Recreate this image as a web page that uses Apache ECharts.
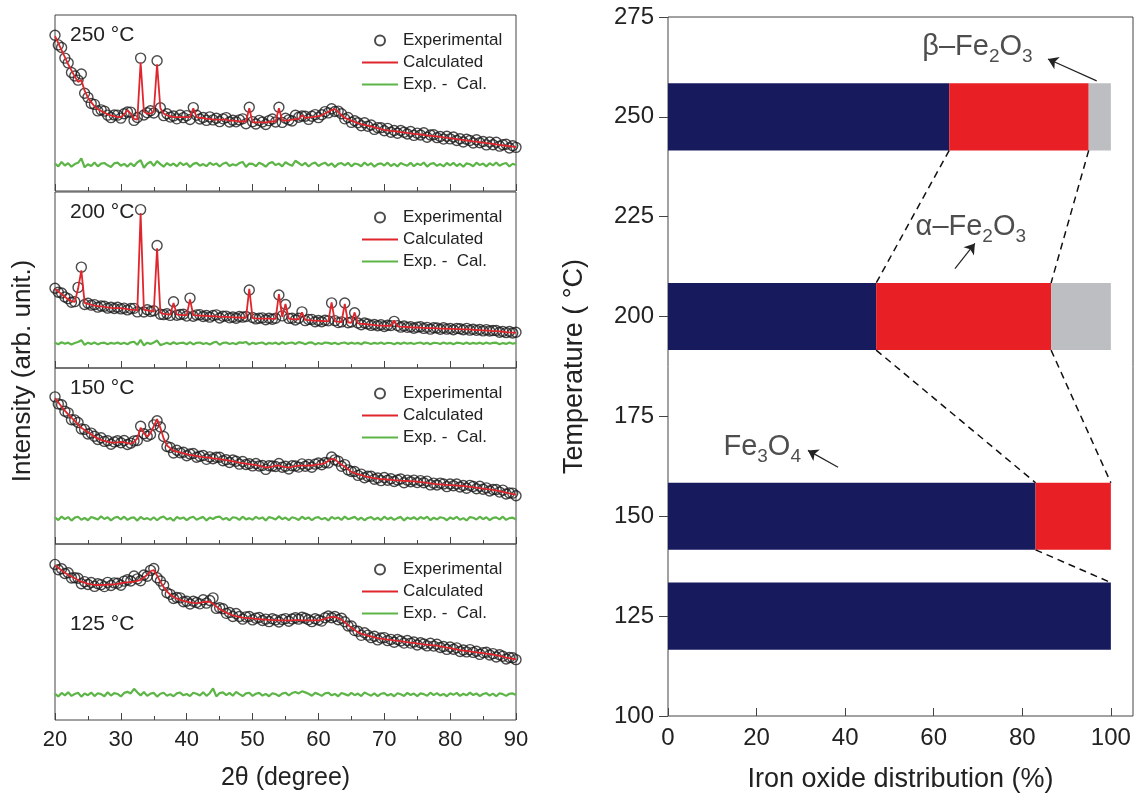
<!DOCTYPE html>
<html>
<head>
<meta charset="utf-8">
<title>XRD refinement and iron oxide distribution</title>
<script src="https://cdn.jsdelivr.net/npm/echarts@6/dist/echarts.min.js"></script>
<style>
  html, body { margin: 0; padding: 0; background: #fff; }
  #chart { width: 1137px; height: 802px; }
</style>
</head>
<body>
<div id="chart"></div>
<script>
  // 2theta sampling of the patterns: every 0.5 degree from 20 to 90
  const thetaStart = 20
  const thetaStep = 0.5

  const panelLabels = ['250 °C', '200 °C', '150 °C', '125 °C']

  // calculated (Rietveld) profiles, arb. unit
  const calc250 = [
    88, 84, 80, 76, 72, 68.5, 65, 62, 63, 57,
    53, 50.5, 48, 46.5, 45.5, 44.5, 43.5, 43, 42.5, 42,
    42, 43.5, 46, 44, 41, 40.5, 73, 45, 44, 44,
    45, 72, 47, 44, 43, 42.5, 42, 42, 42, 42,
    42, 42, 47, 42, 41.5, 41.5, 41, 41, 40.6, 40.6,
    40.5, 40.5, 40.5, 40, 40, 39.8, 39.5, 39.5, 39.5, 47,
    39, 39, 39, 39, 39, 39.2, 39.5, 39.5, 47, 40,
    40, 40.2, 40.5, 40.8, 41, 43, 41.5, 41.8, 42, 42.2,
    42.5, 43, 44, 45, 46, 46.5, 45, 43, 41.5, 40.8,
    40, 39.3, 38.6, 38, 37.6, 37.2, 36.7, 36.2, 35.7, 35.2,
    34.7, 34.5, 34.2, 34, 33.8, 33.5, 33.3, 33, 32.8, 32.5,
    32.3, 32.1, 31.9, 31.6, 31.4, 31.2, 31, 30.7, 30.5, 30.2,
    30, 29.7, 29.5, 29.2, 29, 28.7, 28.5, 28.2, 28, 27.7,
    27.5, 27.2, 27, 26.7, 26.5, 26.2, 26, 25.7, 25.5, 25.2,
    25
  ]
  const calc200 = [
    45, 43.5, 42, 40.5, 39, 38, 37.5, 45, 55.5, 37,
    36.4, 36, 35.5, 35.2, 35, 34.7, 34.5, 34.2, 34, 34,
    34, 33.7, 33.5, 33.2, 33, 32.7, 88, 33, 32.7, 32.4,
    32, 68, 31.5, 30.7, 30.5, 30.4, 37, 30.3, 30.2, 30.1,
    30, 39, 30, 29.9, 29.8, 29.7, 29.6, 29.5, 29.4, 29.3,
    29.2, 29.1, 29, 28.9, 28.8, 28.8, 28.7, 28.6, 28.5, 45,
    28.3, 28.2, 28.1, 28, 28, 28, 27.9, 27.9, 42, 29,
    36.4, 28, 27.8, 27.7, 27.6, 31.6, 27.4, 27.2, 27, 26.9,
    26.8, 26.7, 26.6, 26.5, 37.3, 26.5, 26.3, 26, 36.4, 26,
    25.7, 31.6, 25.3, 25.1, 25, 24.8, 24.6, 24.4, 24.2, 24.1,
    24, 24, 23.9, 27, 23.7, 23.5, 23.4, 23.3, 23.1, 23,
    23, 22.9, 22.8, 22.7, 22.6, 22.6, 22.5, 22.4, 22.4, 22.3,
    22.2, 22.2, 22.1, 22.1, 22, 22, 21.9, 21.7, 21.6, 21.5,
    21.4, 21.3, 21.2, 21, 20.9, 20.8, 20.6, 20.4, 20.2, 20.1,
    20
  ]
  const calc150 = [
    83, 80.5, 78, 75.8, 73.7, 71.8, 70, 68, 66, 64.8,
    63.5, 62.2, 61, 60, 59.2, 58.6, 58, 57.8, 57.6, 57.8,
    58, 57.8, 57.3, 57, 58, 60, 66, 63, 61, 63,
    67, 71, 66, 60, 56, 54.5, 53, 52.5, 52, 51.5,
    51, 50.7, 50.4, 50, 49.7, 49.4, 49.2, 49, 48.7, 48.5,
    48.2, 47.9, 47.6, 47.3, 47, 46.6, 46.2, 45.9, 45.7, 45.4,
    45.1, 44.8, 44.5, 44, 43.5, 43.7, 44, 44.6, 44.5, 44,
    43.7, 43.5, 43.8, 44.2, 44.5, 44.5, 44.5, 44.6, 44.6, 45,
    45.2, 45.5, 46, 47.2, 48.5, 48, 46.5, 45, 44, 42.5,
    41, 40.3, 39.7, 39.2, 38.6, 38.2, 37.7, 37.4, 37.1, 36.9,
    36.8, 36.6, 36.5, 36.3, 36.2, 36, 35.9, 35.8, 35.7, 35.6,
    35.5, 35.2, 35, 34.7, 34.5, 34.2, 34, 33.9, 33.8, 33.6,
    33.5, 33.4, 33.2, 33.1, 33, 32.8, 32.5, 32.3, 32, 31.8,
    31.5, 31.2, 31, 30.7, 30.4, 30, 29.6, 29.2, 28.8, 28.4,
    28
  ]
  const calc125 = [
    88, 86.5, 85, 83.7, 82.5, 81.5, 80.5, 79.5, 78.6, 78,
    77.4, 77, 76.8, 76.7, 76.7, 76.8, 76.9, 77, 77.1, 77.4,
    77.7, 78, 78.2, 78.4, 78.6, 79, 79.6, 81, 82.5, 84.5,
    85.2, 82, 78.6, 75.5, 73, 71.2, 70, 69, 68.3, 67.7,
    67.2, 66.8, 66.5, 66.4, 66.6, 67, 67.2, 67.2, 66, 64.5,
    63, 62, 61, 60.2, 59.5, 59, 58.6, 58.2, 58, 57.8,
    57.7, 57.5, 57.3, 57.1, 57, 56.9, 56.8, 56.7, 56.6, 56.6,
    56.6, 56.6, 56.6, 56.7, 56.7, 56.6, 56.6, 56.6, 56.6, 56.6,
    56.6, 57, 57.5, 58.1, 58.6, 58.5, 58, 57, 55.6, 54,
    52.5, 51.2, 49.9, 49, 48.5, 48, 47.5, 47, 46.5, 46.2,
    46, 45.7, 45.5, 45.2, 45, 44.8, 44.5, 44.3, 44, 43.8,
    43.5, 43.3, 43, 42.8, 42.6, 42.4, 42.2, 41.8, 41.5, 41.1,
    40.8, 40.4, 40.1, 39.7, 39.4, 39.2, 39, 38.7, 38.5, 38.2,
    38, 37.7, 37.5, 37.2, 36.8, 36.4, 36, 35.5, 35.1, 34.8,
    34.6
  ]

  // difference curves Exp. - Cal.
  const diff250 = [
    0.5, -1, 1.5, -0.5, 0.8, -1.2, 0.3, 1, 3.5, -1.5,
    0.2, -0.8, 1.2, -1, 0.6, 0.9, -0.4, -1.3, 0.7, 1.1,
    -0.6, 0.4, -1.1, 0.8, -0.9, 1.3, 2.5, -1.8, 0.5, 1.6,
    -0.7, 2, 0.3, -1.2, 0.9, -0.5, 0.6, -1, 1.2, -0.3,
    0.8, -1.4, 0.4, 1, -0.6, 0.3, -0.9, 1.1, -0.2, 0.7,
    -1.1, 0.5, 1.2, -0.8, 0.2, -0.5, 0.9, 1.5, -1.3, 0.6,
    0.4, -0.9, 1.1, 0.2, -1.2, 0.8, 1.4, -0.3, 0.6, -1,
    1.3, 0.2, -0.7, 2.2, 0.9, -0.4, 1, -1.1, 0.5, 1.2,
    -0.8, 0.3, 1.1, -0.6, 0.7, -1.3, 0.4, 0.9, -0.5, 1,
    -1, 0.6, 0.2, -0.9, 1.2, -0.4, 0.8, -1.2, 0.3, 0.7,
    -0.5, 1.1, -0.8, 0.4, -1, 0.9, 0.1, -0.6, 1, -0.9,
    0.6, -0.3, 1.2, -1.1, 0.4, 0.8, -0.7, 0.3, -1, 0.9,
    -0.4, 1, -0.8, 0.5, -1.2, 0.7, 0.2, -0.9, 1.1, -0.3,
    0.6, -1, 0.8, -0.4, 1.2, -0.7, 0.3, 0.9, -1.1, 0.5,
    -0.2
  ]
  const diff200 = [
    0.3, -0.5, 0.6, -0.2, 0.4, -0.6, 0.2, 0.8, 1.8, -0.9,
    0.4, -0.3, 0.5, -0.6, 0.2, 0.4, -0.5, 0.3, -0.2, 0.5,
    -0.4, 0.3, -0.5, 0.6, 0.9, -0.8, 2, -1.2, 0.4, -0.3,
    0.5, 1.6, -1, -0.4, 0.3, -0.5, 0.6, -0.3, 0.2, 0.4,
    -0.5, 0.7, -0.6, 0.3, 0.5, -0.4, 0.2, -0.6, 0.4, 0.9,
    -0.8, 0.3, 0.5, -0.4, 0.2, -0.5, 0.6, 0.3, 0.8, -0.7,
    0.4, -0.3, 0.2, 0.5, -0.6, 0.3, -0.2, 0.4, -0.5, 0.6,
    -0.3, 0.2, 0.5, -0.4, 0.7, 0.3, -0.5, 0.4, 0.6, -0.6,
    0.2, -0.4, 0.5, 0.3, -0.3, 0.4, -0.5, 0.2, 0.5, -0.3,
    0.4, -0.2, 0.3, -0.5, 0.6, 0.2, -0.4, 0.3, -0.2, 0.5,
    -0.4, 0.3, 0.2, -0.5, 0.4, -0.3, 0.5, -0.2, 0.3, -0.4,
    0.2, 0.5, -0.3, 0.4, -0.5, 0.3, 0.2, -0.4, 0.5, -0.2,
    0.3, -0.5, 0.4, 0.2, -0.3, 0.5, -0.4, 0.3, -0.2, 0.4,
    -0.3, 0.5, -0.2, 0.3, 0.4, -0.5, 0.2, -0.3, 0.5, -0.2,
    0.3
  ]
  const diff150 = [
    0.6, -0.9, 1.1, -0.4, 0.8, -1.2, 0.5, 1, -0.7, 0.3,
    -1, 0.8, 0.2, -0.6, 1.2, -0.3, 0.7, -1.1, 0.4, 0.9,
    -0.5, 1, -0.8, 0.3, 0.6, -1.2, 0.9, -0.4, 0.2, -0.8,
    0.7, -1, 0.5, 1.1, -0.6, 0.3, -1.3, 0.8, -0.2, 0.6,
    -0.9, 0.4, 1, -0.7, 0.2, 0.9, -1.1, 0.5, -0.3, 0.8,
    1.1, -0.6, 0.3, -1, 0.7, 0.4, -0.8, 1, -0.5, 0.2,
    -0.7, 0.9, -0.2, 0.6, -1.1, 0.8, 0.3, -0.6, 1.2, -0.4,
    0.5, -0.9, 0.7, 0.1, -0.8, 1, -0.3, 0.6, -1, 0.4,
    0.8, -0.5, 0.3, -1.1, 0.9, -0.2, 0.6, -0.8, 1.1, -0.4,
    0.2, 0.9, -0.7, 0.5, -1, 0.3, 0.8, -0.6, 0.4, -0.9,
    1, -0.4, 0.6, -0.8, 0.2, 0.9, -1.1, 0.5, -0.3, 0.7,
    -0.6, 0.8, -0.2, 1, -0.9, 0.4, -0.5, 0.7, 0.3, -1,
    0.6, -0.3, 0.9, -0.7, 0.2, -1.1, 0.8, 0.4, -0.6, 1,
    -0.4, 0.7, -0.9, 0.3, 0.6, -0.5, 1, -0.8, 0.2, 0.5,
    -0.6
  ]
  const diff125 = [
    0.4, -1.1, 0.9, -0.5, 1.2, -0.8, 0.3, 1, -1.2, 0.6,
    -0.4, 1.1, -0.9, 0.7, 0.2, -1, 1.3, -0.6, 0.8, 0.3,
    -1.1, 0.9, 1.5, 0.6, 3.2, 1.2, -0.5, 1.4, -0.8, 0.5,
    0.9, -1.2, 0.4, 1, -0.7, 0.2, -1, 0.6, 1.1, -0.5,
    0.3, -0.9, 1, 0.4, -0.6, 1.3, -0.8, 0.7, 3.4, -1.1,
    0.8, 1.2, -0.4, 0.9, -0.7, 1.5, 0.2, -0.9, 0.6, 1,
    -0.8, 0.4, 0.9, -0.6, 0.3, -1, 0.7, 0.2, -0.9, 0.5,
    1, -0.5, 0.8, 1.4, 0.6, 1.8, 1.2, 0.4, -0.7, 0.9,
    0.2, -0.8, 0.6, 1, -0.5, 0.3, -1, 0.8, 0.2, -0.6,
    0.9, -0.4, 0.5, -0.9, 1.1, 0.2, -0.7, 0.6, -1, 0.4,
    0.8, -0.6, 0.3, -1, 0.7, 0.1, -0.8, 0.9, -0.3, 0.5,
    -0.9, 0.6, 0.2, -0.7, 1, -0.4, 0.8, -0.6, 0.3, -1,
    0.7, -0.2, 0.9, -0.8, 0.4, -0.5, 1, -0.3, 0.6, -0.9,
    0.3, 0.8, -0.6, 0.5, -1, 0.7, 0.2, -0.8, 0.4, 0.6,
    -0.3
  ]
  // level at which each difference curve is drawn
  const diffOffset = [15, 14, 14.5, 14.5]

  // iron oxide distribution (%) per annealing temperature
  const temps = [125, 150, 200, 250]
  const fe3o4 = [100, 83, 47, 63.5]
  const alphaFe2o3 = [0, 17, 39.5, 31.5]
  const betaFe2o3 = [0, 0, 13.5, 5]

  const calcs = [calc250, calc200, calc150, calc125]
  const diffs = [diff250, diff200, diff150, diff125]

  const font = '"Liberation Sans", Arial, sans-serif'
  const ink = '#222'
  const panelTop = [15, 192, 368, 544]
  const panelH = 176
  const barHalf = 8.4
  const phaseColors = ['#181a5e', '#e91f26', '#bdbec1']
  // thin bar used as legend icon for the two curves
  const lineIcon = 'path://M0,0L36,0L36,2.2L0,2.2Z'

  let grids = [], xAxes = [], yAxes = [], legends = [], series = [], graphics = []

  panelTop.forEach((top, i) => {
    let last = i === panelTop.length - 1
    grids.push({ left: 55, right: 621, top: top, height: panelH, show: true,
      borderColor: '#444', borderWidth: 1, backgroundColor: 'transparent' })
    xAxes.push({
      type: 'value', gridIndex: i, min: 20, max: 90, interval: 10,
      axisLine: { show: false },
      axisTick: { show: true, inside: true, length: 7, lineStyle: { color: '#444' } },
      minorTick: { show: true, splitNumber: 2, length: 4, lineStyle: { color: '#444' } },
      splitLine: { show: false },
      axisLabel: { show: last, fontSize: 22, color: ink, fontFamily: font, margin: 9 },
      name: last ? '2θ (degree)' : '', nameLocation: 'middle', nameGap: 46,
      nameTextStyle: { fontSize: 25, color: ink, fontFamily: font }
    })
    yAxes.push({ type: 'value', gridIndex: i, min: 0, max: 100, show: false })
    legends.push({
      orient: 'vertical', left: 357, top: top + 12, itemWidth: 36, itemHeight: 10, itemGap: 5,
      selectedMode: false,
      textStyle: { fontSize: 17, color: ink, fontFamily: font },
      data: [
        { name: 'Experimental', icon: 'circle' },
        { name: 'Calculated', icon: lineIcon },
        { name: 'Exp. -  Cal.', icon: lineIcon }
      ]
    })

    let calc = calcs[i], diff = diffs[i]
    let xs = calc.map((v, k) => thetaStart + k * thetaStep)
    series.push({
      name: 'Experimental', type: 'scatter', xAxisIndex: i, yAxisIndex: i, z: 2,
      symbol: 'circle', symbolSize: 10,
      itemStyle: { color: 'rgba(0,0,0,0)', borderColor: '#1e1e1e', borderWidth: 1.4 },
      // Exp. = Cal. + (Exp. - Cal.)
      data: xs.map((x, k) => [x, calc[k] + diff[k]])
    })
    series.push({
      name: 'Calculated', type: 'line', xAxisIndex: i, yAxisIndex: i, z: 3,
      symbol: 'none', lineStyle: { color: '#e0262c', width: 1.8 }, itemStyle: { color: '#e0262c' },
      data: xs.map((x, k) => [x, calc[k]])
    })
    series.push({
      name: 'Exp. -  Cal.', type: 'line', xAxisIndex: i, yAxisIndex: i, z: 3,
      symbol: 'none', lineStyle: { color: '#5db548', width: 2.2 }, itemStyle: { color: '#5db548' },
      data: xs.map((x, k) => [x, diffOffset[i] + diff[k]])
    })
    graphics.push({
      type: 'text', left: 70, top: top + (last ? 70 : 10),
      style: { text: panelLabels[i], fontSize: 21, fill: ink, fontFamily: font }
    })
  })

  graphics.push({
    type: 'text', x: 23, y: 371, rotation: Math.PI / 2,
    style: { text: 'Intensity (arb. unit.)', fontSize: 26, fill: ink, fontFamily: font,
      align: 'center', verticalAlign: 'middle' }
  })

  // right panel: iron oxide distribution
  const R = panelTop.length
  grids.push({ left: 668, right: 4, top: 17, bottom: 86, show: true,
    borderColor: '#444', borderWidth: 1, backgroundColor: 'transparent' })
  xAxes.push({
    type: 'value', gridIndex: R, min: 0, max: 105, interval: 20,
    axisLine: { show: false },
    axisTick: { inside: true, length: 8, customValues: [0, 20, 40, 60, 80, 100], lineStyle: { color: '#444' } },
    axisLabel: { fontSize: 24, color: ink, fontFamily: font, margin: 10, customValues: [0, 20, 40, 60, 80, 100] },
    splitLine: { show: false },
    name: 'Iron oxide distribution (%)', nameLocation: 'middle', nameGap: 50,
    nameTextStyle: { fontSize: 27, color: ink, fontFamily: font }
  })
  yAxes.push({
    type: 'value', gridIndex: R, min: 100, max: 275, interval: 25,
    axisLine: { show: false },
    axisTick: { inside: false, length: 9, lineStyle: { color: '#444' } },
    axisLabel: { fontSize: 24, color: ink, fontFamily: font, margin: 14 },
    splitLine: { show: false },
    name: 'Temperature ( °C)', nameLocation: 'middle', nameGap: 80,
    nameTextStyle: { fontSize: 27, color: ink, fontFamily: font }
  })

  const phases = [fe3o4, alphaFe2o3, betaFe2o3]
  phases.forEach((vals, p) => {
    series.push({
      type: 'custom', xAxisIndex: R, yAxisIndex: R, z: 2,
      data: temps.map((t, k) => {
        let start = 0
        for (let q = 0; q < p; q++) start += phases[q][k]
        return [t, start, start + vals[k]]
      }).filter(d => d[2] > d[1]),
      encode: { x: [1, 2], y: 0 },
      renderItem: (params, api) => {
        let a = api.coord([api.value(1), api.value(0) + barHalf])
        let b = api.coord([api.value(2), api.value(0) - barHalf])
        return { type: 'rect', shape: { x: a[0], y: a[1], width: b[0] - a[0], height: b[1] - a[1] },
          style: { fill: phaseColors[p] } }
      }
    })
  })

  // dashed guides joining phase boundaries of neighbouring bars
  for (let k = temps.length - 1; k > 0; k--) {
    let up = [fe3o4[k], fe3o4[k] + alphaFe2o3[k]]
    let low = [fe3o4[k - 1], fe3o4[k - 1] + alphaFe2o3[k - 1]]
    up.forEach((b, j) => {
      if (b >= 100 || (j === 1 && up[1] === up[0])) return
      series.push({
        type: 'line', xAxisIndex: R, yAxisIndex: R, z: 4, symbol: 'none',
        lineStyle: { color: '#111', width: 1.5, type: [7, 5] },
        data: [[b, temps[k] - barHalf], [low[j], temps[k - 1] + barHalf]]
      })
    })
  }

  // phase labels and their arrows
  const labelPos = [[57.3, 267.5], [55.8, 222.3], [12.4, 167.3]]
  const labelText = [
    '{n|β–Fe}{s|2}{n|O}{s|3}',
    '{n|α–Fe}{s|2}{n|O}{s|3}',
    '{n|Fe}{s|3}{n|O}{s|4}'
  ]
  const arrows = [
    [[96.8, 259], [85.8, 264.5]],
    [[64.8, 212], [69.3, 218.3]],
    [[38.4, 162.3], [31.6, 166.5]]
  ]
  series.push({
    type: 'scatter', xAxisIndex: R, yAxisIndex: R, z: 5, symbolSize: 1,
    itemStyle: { color: 'rgba(0,0,0,0)' },
    data: labelPos.map((p, k) => ({
      value: p,
      label: {
        show: true, position: 'right', distance: 0, formatter: labelText[k],
        rich: {
          n: { fontSize: 29, color: ink, fontFamily: font, lineHeight: 38 },
          s: { fontSize: 19, color: ink, fontFamily: font, verticalAlign: 'bottom' }
        }
      }
    })),
    markLine: {
      silent: true, symbol: ['none', 'arrow'], symbolSize: 10,
      lineStyle: { color: '#222', width: 1.2, type: 'solid' },
      label: { show: false },
      data: arrows.map(a => [{ coord: a[0] }, { coord: a[1] }])
    }
  })

  let chart = echarts.init(document.getElementById('chart'))
  chart.setOption({
    animation: false,
    textStyle: { fontFamily: font },
    grid: grids,
    xAxis: xAxes,
    yAxis: yAxes,
    legend: legends,
    series: series,
    graphic: graphics
  })
</script>
</body>
</html>
